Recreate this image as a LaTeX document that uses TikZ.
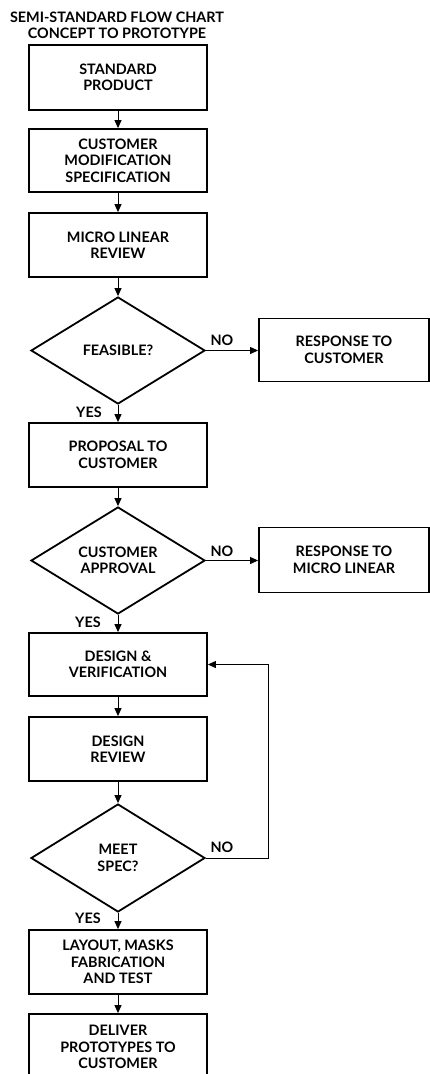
\documentclass[tikz,border=0pt]{standalone}
\usepackage{fontspec}
\setmainfont{Lato}
\usetikzlibrary{arrows.meta,shapes.geometric}
\newcommand{\chartfont}{\bfseries\fontsize{14.4}{16.5}\selectfont}
\begin{document}
\begin{tikzpicture}[x=1pt,y=-1pt,
  box/.style={draw,line width=1.8pt,minimum width=178pt,inner sep=0pt,align=center,font=\chartfont},
  rbox/.style={draw,line width=1.8pt,minimum width=170pt,inner sep=0pt,align=center,font=\chartfont},
  decision/.style={draw,diamond,line width=1.8pt,minimum width=174pt,minimum height=107pt,inner sep=0pt,align=center,font=\chartfont},
  arr/.style={line width=1pt,-{Triangle[length=8pt,width=7pt]}},
  lbl/.style={font=\chartfont,inner sep=0pt},
  ttl/.style={font=\chartfont,inner sep=0pt}]
\useasboundingbox (0,0) rectangle (430,1074);
\node[ttl] (t1) at (117,17) {SEMI-STANDARD FLOW CHART};
\node[ttl] (t2) at (117,33) {CONCEPT TO PROTOTYPE};
\node[box,minimum height=65pt] (b1) at (118,77.5) {STANDARD\\PRODUCT};
\node[box,minimum height=63pt] (b2) at (118,160.5) {CUSTOMER\\MODIFICATION\\SPECIFICATION};
\node[box,minimum height=64pt] (b3) at (118,245) {MICRO LINEAR\\REVIEW};
\node[decision] (d1) at (118,350.5) {FEASIBLE?};
\node[rbox,minimum height=63pt] (r1) at (344,350) {RESPONSE TO\\CUSTOMER};
\node[box,minimum height=64pt] (b4) at (118,455) {PROPOSAL TO\\CUSTOMER};
\node[decision] (d2) at (118,560.5) {CUSTOMER\\APPROVAL};
\node[rbox,minimum height=65pt] (r2) at (344,560) {RESPONSE TO\\MICRO LINEAR};
\node[box,minimum height=63pt] (b5) at (118,664.5) {DESIGN \&\\VERIFICATION};
\node[box,minimum height=64pt] (b6) at (118,749) {DESIGN\\REVIEW};
\node[decision,minimum height=108pt] (d3) at (118,858) {MEET\\SPEC?};
\node[box,minimum height=64pt] (b7) at (118,962) {LAYOUT, MASKS\\FABRICATION\\AND TEST};
\node[box,minimum height=66pt] (b8) at (118,1047) {DELIVER\\PROTOTYPES TO\\CUSTOMER};
\coordinate (fb) at (268,856);
\draw[arr] (b1.south) -- (b2.north);
\draw[arr] (b2.south) -- (b3.north);
\draw[arr] (b3.south) -- (d1.north);
\draw[arr] (d1.east) -- (d1.east -| r1.west);
\draw[arr] (d1.south) -- (b4.north);
\draw[arr] (b4.south) -- (d2.north);
\draw[arr] (d2.east) -- (d2.east -| r2.west);
\draw[arr] (d2.south) -- (b5.north);
\draw[arr] (b5.south) -- (b6.north);
\draw[arr] (b6.south) -- (d3.north);
\draw[arr] (d3.east) -- (d3.east -| fb) -- (fb |- b5.east) -- (b5.east);
\draw[arr] (d3.south) -- (b7.north);
\draw[arr] (b7.south) -- (b8.north);
\node[lbl] (n1) at (222,340) {NO};
\node[lbl] (y1) at (89,412) {YES};
\node[lbl] (n2) at (222,551) {NO};
\node[lbl] (y2) at (88,622) {YES};
\node[lbl] (n3) at (222,847) {NO};
\node[lbl] (y3) at (88,918) {YES};
\end{tikzpicture}
\end{document}
